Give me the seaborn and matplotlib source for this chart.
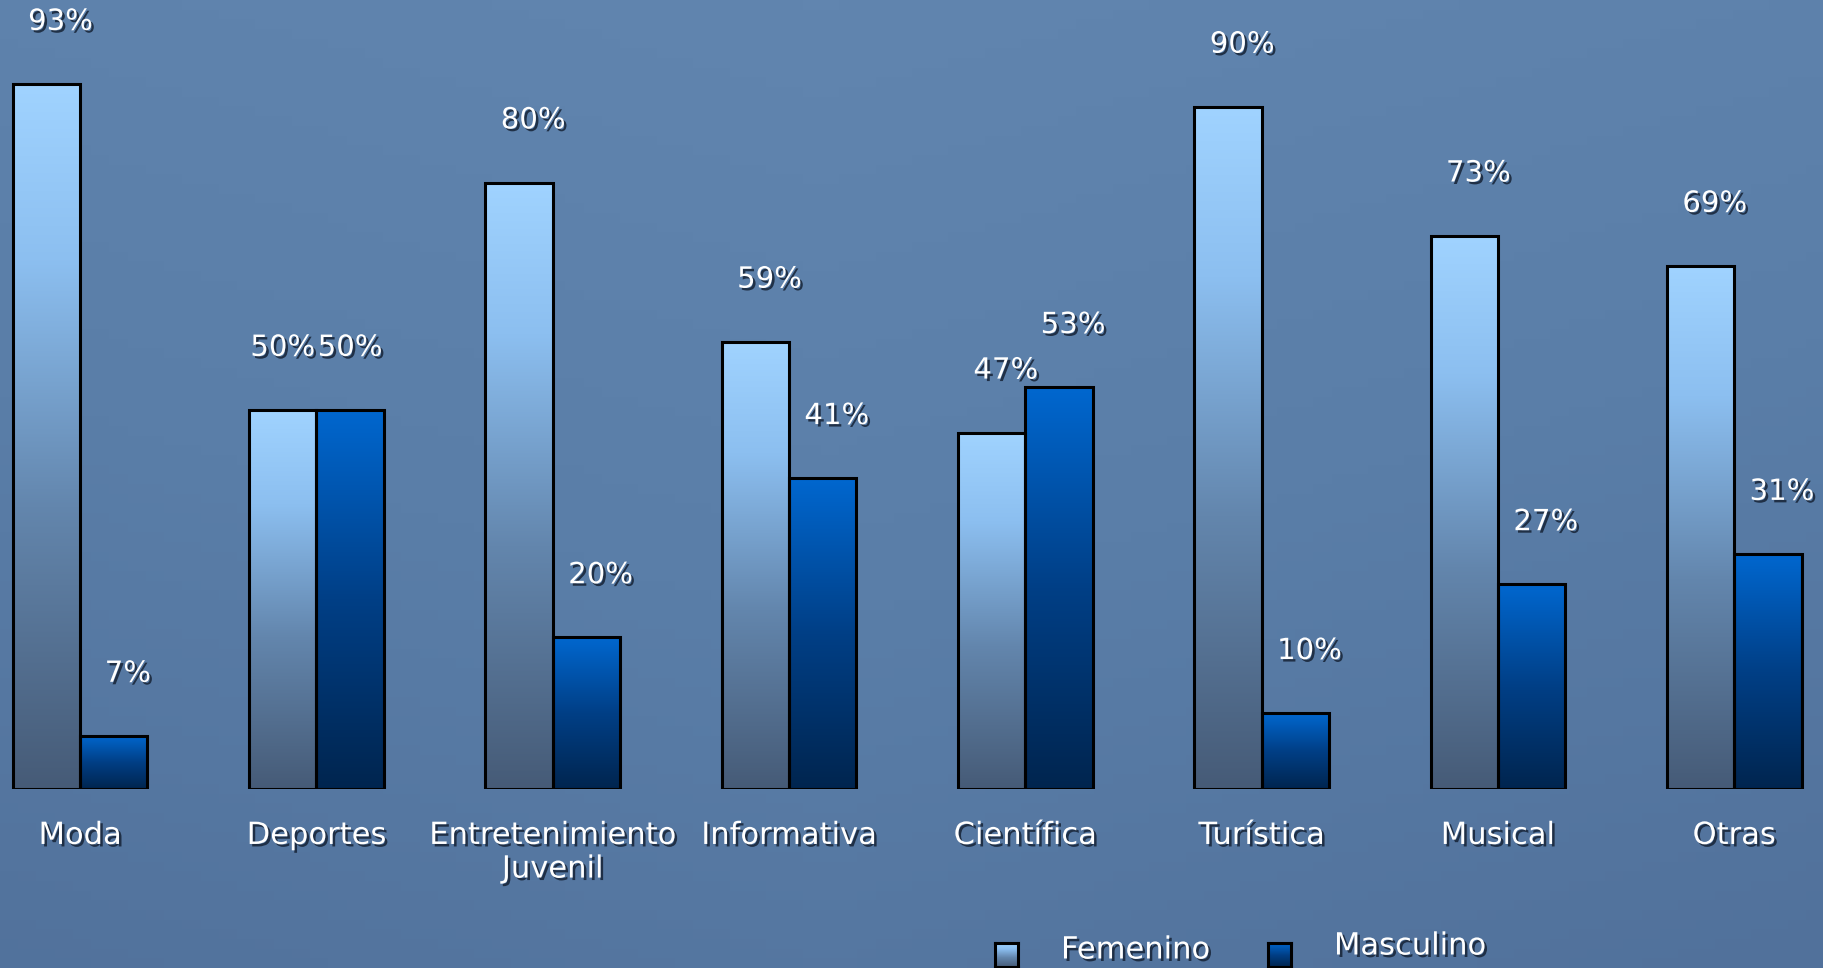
import numpy as np
import pandas as pd
import matplotlib
matplotlib.use("Agg")
import matplotlib.pyplot as plt
import matplotlib.patheffects as pe
import seaborn as sns
from matplotlib.colors import LinearSegmentedColormap, to_hex

# ---- data ----
categories = ["Moda", "Deportes", "Entretenimiento\nJuvenil", "Informativa",
              "Científica", "Turística", "Musical", "Otras"]
series = ["Femenino", "Masculino"]
femenino = [93, 50, 80, 59, 47, 90, 73, 69]
masculino = [7, 50, 20, 41, 53, 10, 27, 31]

df = pd.DataFrame({
    "categoria": categories * 2,
    "sexo": [series[0]] * len(categories) + [series[1]] * len(categories),
    "valor": femenino + masculino,
})

sns.set_theme(style="white")
plt.rcParams['font.family'] = ['DejaVu Sans']

W, H = 1824, 968
fig = plt.figure(figsize=(W / 100, H / 100), dpi=100)
fig.patch.set_facecolor("#5a7ca6")

# background (subtle gradient)
bg = fig.add_axes([0, 0, 1, 1], zorder=-10)
bg_cmap = LinearSegmentedColormap.from_list("bg", ["#51719b", "#5a7ea8", "#6185af"])
yy, xx = np.mgrid[0:1:100j, 0:1:100j]
field = 0.65 * yy + 0.35 * (1 - np.abs(xx - 0.45))
bg.imshow(field, cmap=bg_cmap, aspect="auto", extent=[0, 1, 0, 1], origin="lower")
bg.set_axis_off()

ax = fig.add_axes([0, 0.1849, 1, 0.7831])
ax.set_facecolor("none")

c_fem_flat = "#8fc0f0"
c_mas_flat = "#0055aa"
sns.barplot(data=df, x="categoria", y="valor", hue="sexo", order=categories,
            hue_order=series, palette=[c_fem_flat, c_mas_flat], width=0.57,
            gap=0, edgecolor="black", linewidth=2.2, legend=False, ax=ax,
            saturation=1)

cmap_fem = LinearSegmentedColormap.from_list(
    "fem", [(0, "#465b77"), (0.4, "#6386ad"), (0.75, "#8cbff0"), (1, "#a0d3ff")])
cmap_mas = LinearSegmentedColormap.from_list(
    "mas", [(0, "#00254f"), (0.5, "#003f86"), (1, "#0067cf")])

grad = np.linspace(0, 1, 256).reshape(-1, 1)
for p in list(ax.patches):
    fc = to_hex(p.get_facecolor())
    cmap = cmap_fem if fc == c_fem_flat else cmap_mas
    x, y = p.get_x(), p.get_y()
    w, h = p.get_width(), p.get_height()
    im = ax.imshow(grad, cmap=cmap, extent=[x, x + w, y, y + h], aspect="auto",
                   origin="lower", zorder=p.get_zorder() - 0.01)
    im.set_clip_path(p)
    p.set_facecolor("none")

shadow = [pe.withSimplePatchShadow(offset=(1.8, -1.8), shadow_rgbFace="#1a283c", alpha=0.9)]

# value labels
half = 0.57 / 4
for i, (f, m) in enumerate(zip(femenino, masculino)):
    dx = 0.0 if abs(f - m) < 5 else 0.06
    ax.text(i - half + dx, f + 8.2, f"{f}%", ha="center", va="center",
            color="white", fontsize=21, path_effects=shadow)
    ax.text(i + half + dx, m + 8.2, f"{m}%", ha="center", va="center",
            color="white", fontsize=21, path_effects=shadow)

ax.set_xlim(-0.3386, 7.380)
ax.set_ylim(0, 100)
ax.set_xlabel("")
ax.set_ylabel("")
ax.set_yticks([])
ax.tick_params(axis="x", length=0, pad=23)
for lab in ax.get_xticklabels():
    lab.set_color("white")
    lab.set_fontsize(22)
    lab.set_path_effects(shadow)
    lab.set_linespacing(1.2)
for s in ax.spines.values():
    s.set_visible(False)

# legend (manual)
def legend_square(px_left, cmap):
    lax = fig.add_axes([px_left / W, (H - 967) / H, 23 / W, 24 / H])
    lax.imshow(grad, cmap=cmap, aspect="auto", origin="lower", extent=[0, 1, 0, 1])
    lax.set_xticks([]); lax.set_yticks([])
    for s in lax.spines.values():
        s.set_color("black"); s.set_linewidth(2.2)

legend_square(995, cmap_fem)
legend_square(1268, cmap_mas)
fig.text(1061 / W, 1 - 950 / H, series[0], color="white", fontsize=22,
         va="center", ha="left", path_effects=shadow)
fig.text(1334 / W, 1 - 946 / H, series[1], color="white", fontsize=22,
         va="center", ha="left", path_effects=shadow)

fig.savefig("out.png", dpi=100, facecolor=fig.get_facecolor())
